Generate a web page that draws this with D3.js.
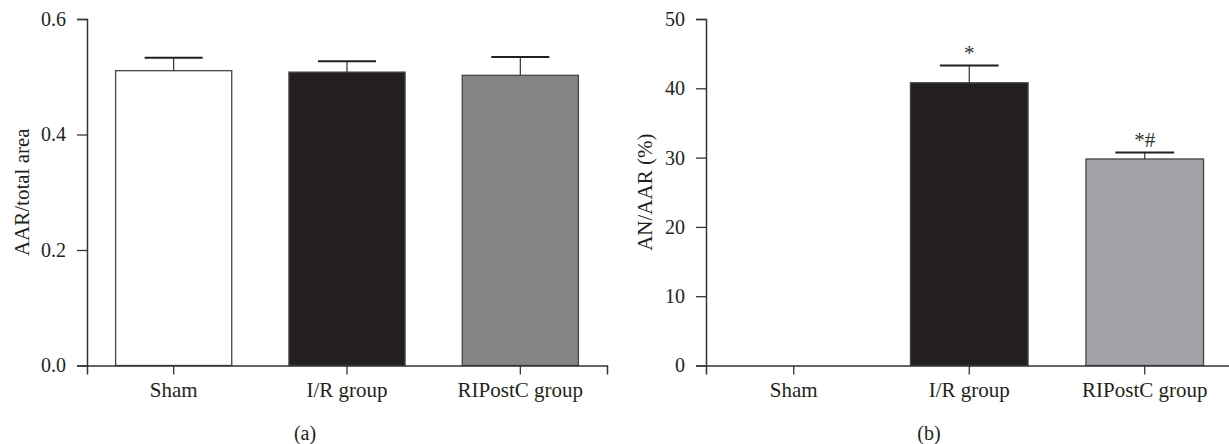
<!DOCTYPE html>
<html>
<head>
<meta charset="utf-8">
<script src="https://cdn.jsdelivr.net/npm/d3@7"></script>
<style>
  body { margin: 0; background: #fff; }
  svg { display: block; }
  text { font-family: "Liberation Serif", "DejaVu Serif", serif; fill: #231f20; }
</style>
</head>
<body>
<svg id="chart" width="1229" height="444"></svg>
<script>
// data
const groups = ['Sham', 'I/R group', 'RIPostC group'];

const aarMean = [0.5105, 0.508, 0.5025];
const aarErr = [0.0225, 0.019, 0.0315];
const aarTicks = [0, 0.2, 0.4, 0.6];

const anMean = [0, 40.8, 29.8];
const anErr = [0, 2.5, 0.95];
const anMarks = ['', '*', '*#'];
const anTicks = [0, 10, 20, 30, 40, 50];

const ink = '#231f20';

let svg = d3.select('#chart');

const draw_panel = (cfg) => {
    let g = svg.append('g');

    let rows = groups.map((name, i) => ({
        name: name,
        mean: cfg.mean[i],
        err: cfg.err[i],
        fill: cfg.fills[i],
        mark: cfg.marks ? cfg.marks[i] : ''
    }));

    let x = d3.scaleBand()
        .domain(groups)
        .range([cfg.left, cfg.right])
        .paddingInner(0.33)
        .paddingOuter(0.165);

    let y = d3.scaleLinear()
        .domain([0, cfg.max])
        .range([cfg.bottom, cfg.top]);

    let mid = d => x(d.name) + x.bandwidth() / 2;
    let shown = rows.filter(d => d.mean > 0);

    // bars
    g.selectAll('rect.bar')
        .data(shown)
        .enter()
        .append('rect')
        .attr('class', 'bar')
        .attr('x', d => x(d.name))
        .attr('y', d => y(d.mean))
        .attr('width', x.bandwidth())
        .attr('height', d => y(0) - y(d.mean))
        .style('fill', d => d.fill)
        .style('stroke', '#444')
        .style('stroke-width', 1.3);

    // error bars
    g.selectAll('line.stem')
        .data(shown)
        .enter()
        .append('line')
        .attr('class', 'stem')
        .attr('x1', mid)
        .attr('x2', mid)
        .attr('y1', d => y(d.mean))
        .attr('y2', d => y(d.mean + d.err))
        .style('stroke', '#333')
        .style('stroke-width', 1.2);
    g.selectAll('line.cap')
        .data(shown)
        .enter()
        .append('line')
        .attr('class', 'cap')
        .attr('x1', d => x(d.name) + x.bandwidth() / 4)
        .attr('x2', d => x(d.name) + x.bandwidth() * 3 / 4)
        .attr('y1', d => y(d.mean + d.err))
        .attr('y2', d => y(d.mean + d.err))
        .style('stroke', ink)
        .style('stroke-width', 2);

    // significance marks
    g.selectAll('text.mark')
        .data(shown.filter(d => d.mark))
        .enter()
        .append('text')
        .attr('class', 'mark')
        .attr('x', mid)
        .attr('y', d => y(d.mean + d.err) - 5)
        .attr('text-anchor', 'middle')
        .style('font-size', '21px')
        .style('fill', '#333')
        .text(d => d.mark);

    // axes
    let yAxis = d3.axisLeft(y)
        .tickValues(cfg.ticks)
        .tickFormat(cfg.fmt)
        .tickSize(10)
        .tickPadding(11);
    let ya = g.append('g')
        .attr('transform', `translate(${cfg.left},0)`)
        .call(yAxis);

    let xAxis = d3.axisBottom(x)
        .tickSize(9)
        .tickPadding(8);
    let xa = g.append('g')
        .attr('transform', `translate(0,${cfg.bottom})`)
        .call(xAxis);

    [ya, xa].forEach(a => {
        a.select('.domain').style('stroke', '#333').style('stroke-width', 1.5);
        a.selectAll('.tick line').style('stroke', '#333').style('stroke-width', 1.3);
        a.selectAll('.tick text')
            .style('font-size', '20px')
            .style('font-family', '"Liberation Serif", serif')
            .style('fill', ink);
    });
    xa.selectAll('.tick text').style('font-size', '21px');

    // axis title
    g.append('text')
        .attr('transform', `translate(${cfg.titleX},${(cfg.top + cfg.bottom) / 2}) rotate(-90)`)
        .attr('text-anchor', 'middle')
        .attr('dy', '0.35em')
        .style('font-size', '21px')
        .text(cfg.title);

    // panel label
    g.append('text')
        .attr('x', cfg.capX)
        .attr('y', 440)
        .attr('text-anchor', 'middle')
        .style('font-size', '20px')
        .text(cfg.caption);
};

draw_panel({
    left: 87, right: 607, top: 19, bottom: 365.5,
    max: 0.6, mean: aarMean, err: aarErr, ticks: aarTicks,
    fmt: d3.format('.1f'),
    fills: ['#ffffff', ink, '#848487'],
    title: 'AAR/total area', titleX: 22,
    caption: '(a)', capX: 305
});

draw_panel({
    left: 706, right: 1232.5, top: 19, bottom: 365.5,
    max: 50, mean: anMean, err: anErr, ticks: anTicks,
    fmt: d3.format('d'), marks: anMarks,
    fills: ['#ffffff', ink, '#a0a2a7'],
    title: 'AN/AAR (%)', titleX: 645,
    caption: '(b)', capX: 929
});
</script>
</body>
</html>
